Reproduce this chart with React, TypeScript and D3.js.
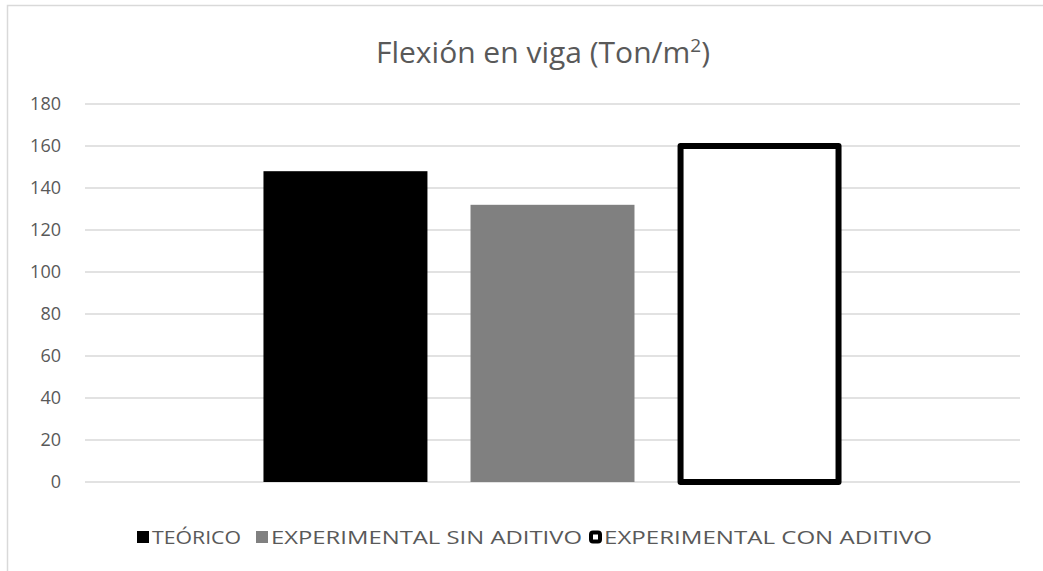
import React from 'react';
import * as d3 from 'd3';

// values
const categories = ['TEÓRICO', 'EXPERIMENTAL SIN ADITIVO', 'EXPERIMENTAL CON ADITIVO'];
const values = [148, 132, 160];
const yTicks = [0, 20, 40, 60, 80, 100, 120, 140, 160, 180];

const W = 1043;
const H = 571;
const FONT = '"Open Sans", "Liberation Sans", sans-serif';
const TEXT = '#595959';

const App = () => {
  const margin = { top: 104, right: 23, bottom: 89, left: 85 };
  const plotW = W - margin.left - margin.right;
  const plotH = H - margin.top - margin.bottom;

  const x = d3.scaleBand<string>()
    .domain(categories)
    .range([0, plotW])
    .paddingInner(0.208)
    .paddingOuter(0.862);

  const y = d3.scaleLinear()
    .domain([0, 180])
    .range([plotH, 0]);

  const fills = ['#000000', '#808080', '#ffffff'];

  // legend layout (Calibri-ish widths)
  const legendX = [137, 256, 589];
  const legendLen = [89, 311, 328];

  return (
    <svg width={W} height={H} style={{ position: 'absolute', left: 0, top: 0, background: '#fff' }}>
      <rect x={7.5} y={5.5} width={W} height={H} fill="#fff" stroke="#d9d9d9" strokeWidth={1.5} />

      <text x={543} y={63} textAnchor="middle" fontFamily={FONT} fontSize={30} fill={TEXT}>
        Flexión en viga (Ton/m<tspan dy={-11} fontSize={19}>2</tspan><tspan dy={11}>)</tspan>
      </text>

      <g transform={`translate(${margin.left},${margin.top})`}>
        {yTicks.map(t => (
          <g key={t}>
            <line x1={0} x2={plotW} y1={y(t)} y2={y(t)} stroke="#d9d9d9" strokeWidth={1.5} />
            <text x={-24} y={y(t)} dy="0.36em" textAnchor="end" fontFamily={FONT} fontSize={18} fill={TEXT}>{t}</text>
          </g>
        ))}

        {categories.map((c, i) => {
          const isOutline = i === 2;
          const sw = 6;
          return isOutline ? (
            <rect key={c}
              x={(x(c) || 0) + sw / 2} width={x.bandwidth() - sw}
              y={y(values[i])} height={y(0) - y(values[i])}
              fill={fills[i]} stroke="#000" strokeWidth={sw} strokeLinejoin="round" />
          ) : (
            <rect key={c}
              x={x(c) || 0} width={x.bandwidth()}
              y={y(values[i])} height={y(0) - y(values[i])}
              fill={fills[i]} />
          );
        })}
      </g>

      <g fontFamily={FONT} fontSize={19} fill={TEXT}>
        {categories.map((c, i) => (
          <g key={c} transform={`translate(${legendX[i]},537)`}>
            {i === 2 ? (
              <rect x={2} y={-4.5} width={9} height={9} rx={2} fill="#fff" stroke="#000" strokeWidth={4} />
            ) : (
              <rect x={0} y={-6} width={12} height={12} fill={fills[i]} />
            )}
            <text x={i === 2 ? 15 : 15} y={0} dy="0.36em"
              textLength={legendLen[i]} lengthAdjust="spacingAndGlyphs">{c}</text>
          </g>
        ))}
      </g>
    </svg>
  );
};

export default App;
